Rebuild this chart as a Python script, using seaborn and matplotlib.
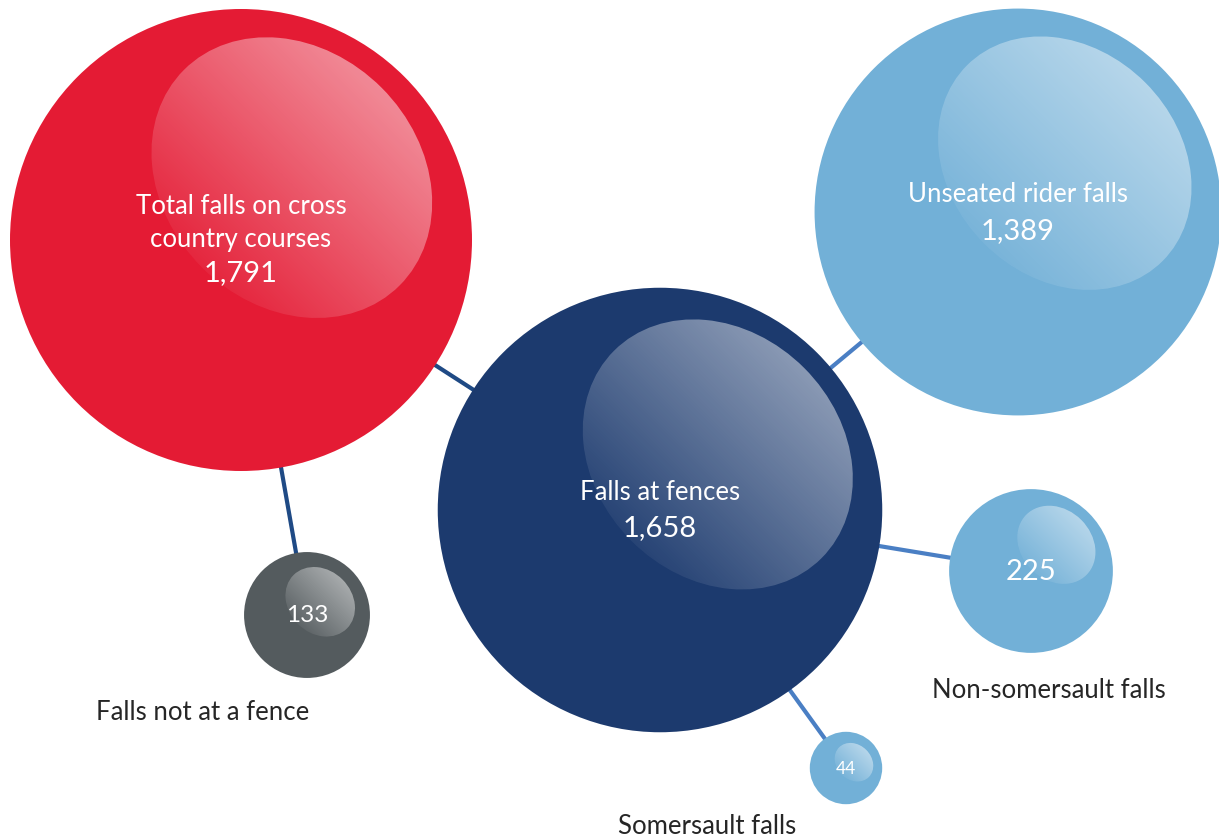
import numpy as np
import pandas as pd
import matplotlib
matplotlib.use("Agg")
import matplotlib.pyplot as plt
from matplotlib.patches import Ellipse
import seaborn as sns

# --- data -------------------------------------------------------------
categories = [
    "Total falls on cross\ncountry courses",
    "Falls at fences",
    "Unseated rider falls",
    "Non-somersault falls",
    "Falls not at a fence",
    "Somersault falls",
]
values = [1791, 1658, 1389, 225, 133, 44]
value_labels = ["1,791", "1,658", "1,389", "225", "133", "44"]
parents = [None, "Total falls on cross\ncountry courses", "Falls at fences",
           "Falls at fences", "Total falls on cross\ncountry courses", "Falls at fences"]

# --- layout (pixel space) ---------------------------------------------
W, H, DPI = 1219, 839, 100
centres = {
    categories[0]: (241, 240),
    categories[1]: (660, 510),
    categories[2]: (1018, 212),
    categories[3]: (1031, 571),
    categories[4]: (307, 615),
    categories[5]: (846, 768),
}
fills = {
    categories[0]: "#E41B34",
    categories[1]: "#1C3A6E",
    categories[2]: "#72B0D7",
    categories[3]: "#72B0D7",
    categories[4]: "#545B5E",
    categories[5]: "#72B0D7",
}
# gloss geometry as fractions of the radius: (dx, dy, semi-major, semi-minor)
gloss = {
    categories[0]: (0.22, 0.27, 0.66, 0.55),
    categories[1]: (0.26, 0.25, 0.66, 0.55),
    categories[2]: (0.23, 0.24, 0.68, 0.56),
    categories[3]: (0.31, 0.32, 0.52, 0.43),
    categories[4]: (0.21, 0.21, 0.60, 0.50),
    categories[5]: (0.22, 0.16, 0.58, 0.48),
}
# radius in px grows with sqrt(value) so that area ~ value
PX_PER_SQRT = 231 / np.sqrt(1791)

sns.set_theme(style="white")
plt.rcParams["font.family"] = ["Lato", "DejaVu Sans"]

fig = plt.figure(figsize=(W / DPI, H / DPI), dpi=DPI)
ax = fig.add_axes([0, 0, 1, 1])
ax.set_xlim(0, W)
ax.set_ylim(H, 0)
ax.axis("off")

df = pd.DataFrame({"category": categories, "value": values,
                   "label": value_labels, "parent": parents})
df["x"] = [centres[c][0] for c in df["category"]]
df["y"] = [centres[c][1] for c in df["category"]]
df["r"] = PX_PER_SQRT * np.sqrt(df["value"])

# connectors between parent and child centres
dark_link, light_link = "#1F4A85", "#4A7FC4"
for _, row in df.dropna(subset=["parent"]).iterrows():
    px, py = centres[row["parent"]]
    colour = dark_link if row["parent"] == categories[0] else light_link
    ax.plot([px, row["x"]], [py, row["y"]], color=colour, lw=3.0,
            zorder=1, solid_capstyle="butt")

# bubbles: marker area in pt^2 proportional to value
pt_per_px = 72 / DPI
smin = (2 * PX_PER_SQRT * np.sqrt(min(values)) * pt_per_px) ** 2
smax = (2 * PX_PER_SQRT * np.sqrt(max(values)) * pt_per_px) ** 2
sns.scatterplot(data=df, x="x", y="y", size="value", sizes=(smin, smax),
                size_norm=(min(values), max(values)),
                hue="category", palette=fills, linewidth=0,
                legend=False, ax=ax, zorder=2)


def add_gloss(cx, cy, r, geom):
    """Tilted ellipse filled with a white gradient, brightest to the upper right."""
    fx, fy, fa, fb = geom
    ex, ey = cx + fx * r, cy - fy * r
    a, b = fa * r, fb * r
    ell = Ellipse((ex, ey), 2 * a, 2 * b, angle=45, facecolor="none",
                  edgecolor="none", transform=ax.transData)
    ax.add_patch(ell)
    n = 300
    xs = np.linspace(ex - a, ex + a, n)
    ys = np.linspace(ey - a, ey + a, n)
    X, Y = np.meshgrid(xs, ys)
    proj = ((X - ex) - (Y - ey)) / (np.sqrt(2) * a)
    alpha = np.clip(0.27 + 0.26 * proj, 0.05, 0.6)
    img = np.ones((n, n, 4))
    img[..., 3] = alpha
    im = ax.imshow(img, extent=(ex - a, ex + a, ey + a, ey - a),
                   origin="upper", aspect="auto", zorder=3,
                   interpolation="bilinear")
    im.set_clip_path(ell)


for _, row in df.iterrows():
    add_gloss(row["x"], row["y"], row["r"], gloss[row["category"]])

ax.set_xlim(0, W)
ax.set_ylim(H, 0)

# labels inside the large bubbles
inner = {
    categories[0]: dict(dy_name=-17, dy_val=33),
    categories[1]: dict(dy_name=-18, dy_val=18),
    categories[2]: dict(dy_name=-18, dy_val=19),
}
for _, row in df.iterrows():
    c = row["category"]
    if c in inner:
        o = inner[c]
        ax.text(row["x"], row["y"] + o["dy_name"], c, ha="center", va="center",
                color="white", fontsize=18.5, linespacing=1.35, zorder=4)
        ax.text(row["x"], row["y"] + o["dy_val"], row["label"], ha="center",
                va="center", color="white", fontsize=21, zorder=4)

# values inside the small bubbles
small_sizes = {categories[3]: 21, categories[4]: 17.5, categories[5]: 12.5}
for c, fs in small_sizes.items():
    x, y = centres[c]
    lab = df.loc[df["category"] == c, "label"].iloc[0]
    ax.text(x, y + 1, lab, ha="center", va="center", color="white",
            fontsize=fs, zorder=4)

# captions beneath the small bubbles
captions = {categories[4]: (203, 712), categories[3]: (1049, 690),
            categories[5]: (707, 826)}
for c, (x, y) in captions.items():
    ax.text(x, y, c, ha="center", va="center", color="#262626", fontsize=18.5,
            zorder=4)

fig.savefig("out.png", dpi=DPI)
